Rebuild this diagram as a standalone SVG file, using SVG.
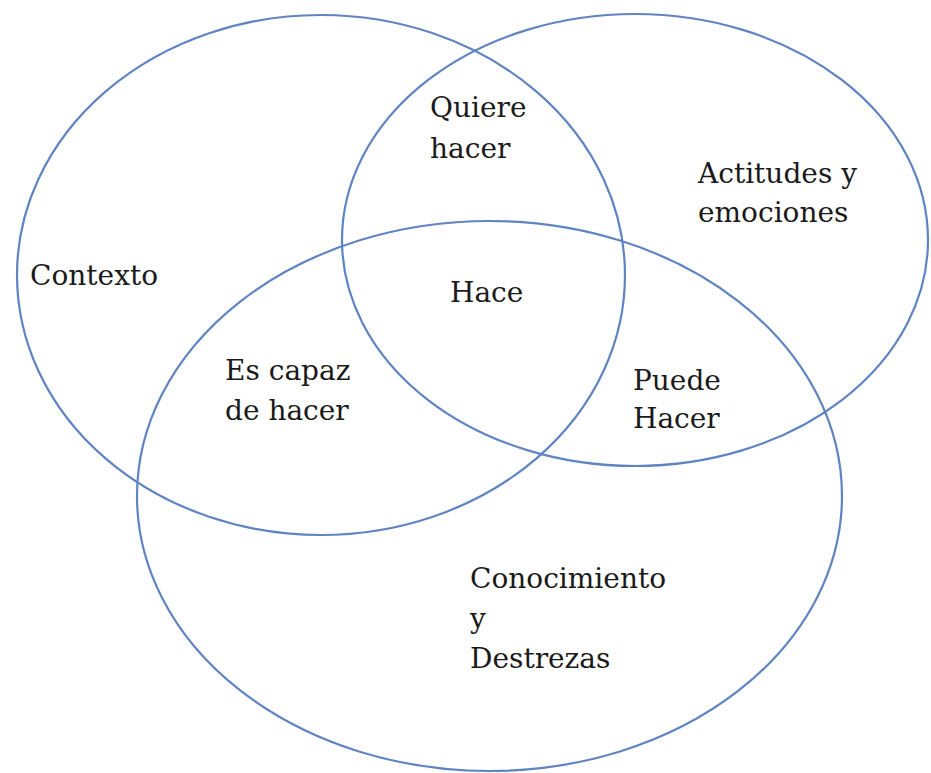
<svg xmlns="http://www.w3.org/2000/svg" width="931" height="773" viewBox="0 0 931 773">
<style>
.c{fill:none;stroke:#5f84c2;stroke-width:2.2}
.t{font-family:'DejaVu Serif','Liberation Serif',serif;font-size:28px;fill:#1a1a1a}
</style>
<rect width="931" height="773" fill="#ffffff"/>
<g id="connectors"></g>
<g id="contexto">
<ellipse class="c" cx="321" cy="275" rx="304" ry="260"/>
<text class="t" x="30" y="285">Contexto</text>
</g>
<g id="actitudes">
<ellipse class="c" cx="635" cy="240" rx="293" ry="226"/>
<text class="t" x="698" y="183">Actitudes y</text>
<text class="t" x="698" y="222">emociones</text>
</g>
<g id="conocimiento">
<ellipse class="c" cx="489.5" cy="496" rx="352.5" ry="275"/>
<text class="t" x="470" y="588">Conocimiento</text>
<text class="t" x="470" y="628">y</text>
<text class="t" x="470" y="668">Destrezas</text>
</g>
<g id="quiere">
<text class="t" x="430" y="117">Quiere</text>
<text class="t" x="430" y="158">hacer</text>
</g>
<g id="hace">
<text class="t" x="450" y="302">Hace</text>
</g>
<g id="escapaz">
<text class="t" x="225" y="380">Es capaz</text>
<text class="t" x="225" y="420">de hacer</text>
</g>
<g id="puede">
<text class="t" x="633" y="390">Puede</text>
<text class="t" x="633" y="428">Hacer</text>
</g>
</svg>
